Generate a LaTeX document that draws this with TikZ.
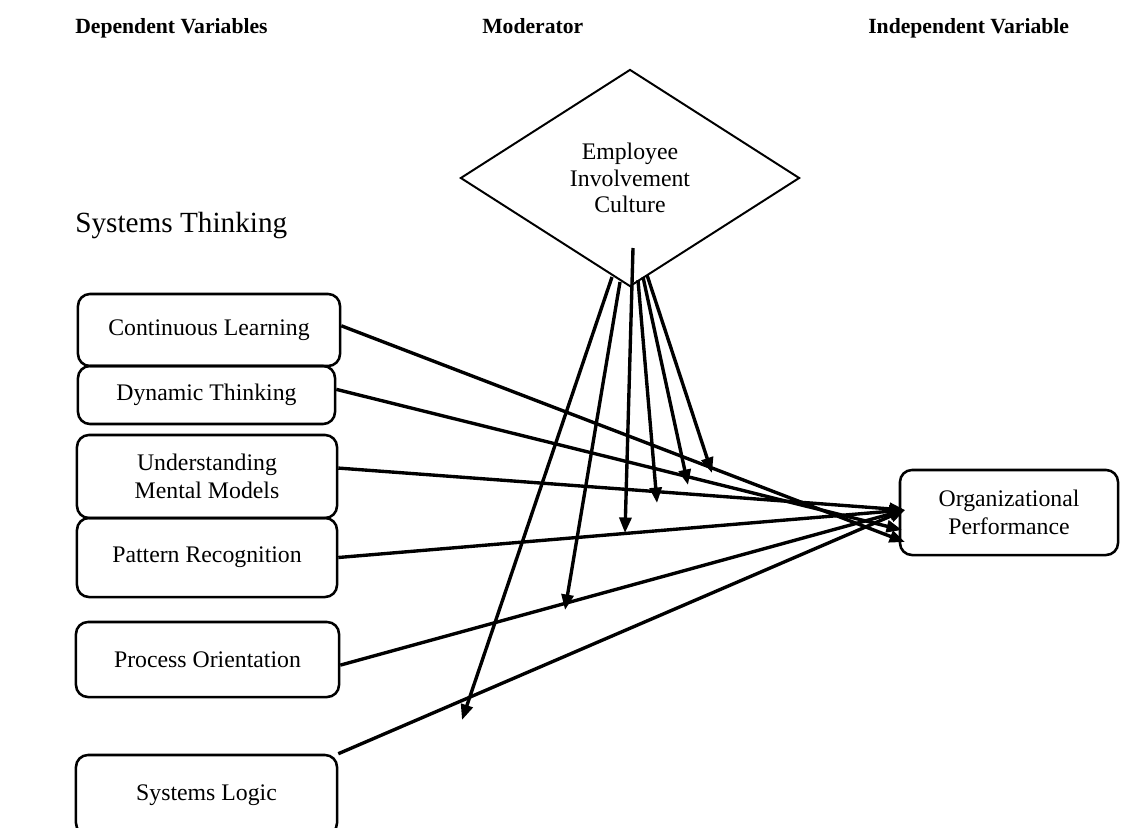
\documentclass[tikz,border=0pt]{standalone}
\usepackage{fontspec}
\setmainfont{Liberation Serif}
\usetikzlibrary{positioning}
\usetikzlibrary{shapes.geometric}
\usetikzlibrary{arrows.meta}

\begin{document}
\begin{tikzpicture}[x=0.025cm,y=-0.025cm,
  varbox/.style={draw,rounded corners=0.3cm,line width=1.8pt,align=center,inner sep=0pt,font=\fontsize{16.9}{19.5}\selectfont},
  head/.style={font=\fontsize{15.4}{18}\selectfont\bfseries,inner sep=0pt,anchor=base west},
  link/.style={line width=2.4pt,-{Triangle[length=11pt,width=8.5pt]}}]
\useasboundingbox (0,0) rectangle (1122,827);
\clip (0,0) rectangle (1122,827);

% headings
\node[head] (hdv) at (75,34) {Dependent Variables};
\node[head] (hmod) at (482,34) {Moderator};
\node[head] (hiv) at (868,34) {Independent Variable};
\node[font=\fontsize{20.8}{24}\selectfont,inner sep=0pt,anchor=base west] (st) at (75,232) {Systems Thinking};

% moderator
\node[diamond,draw,line width=1.4pt,minimum width=8.475cm,minimum height=5.425cm,inner sep=0pt,align=center,font=\fontsize{16.9}{18.9}\selectfont] (eic) at (630,178) {Employee\\Involvement\\Culture};

% dependent variables
\node[varbox,minimum width=6.55cm,minimum height=1.8cm] (cl) at (209,330) {Continuous Learning};
\node[varbox,minimum width=6.425cm,minimum height=1.45cm] (dt) at (206.5,395) {Dynamic Thinking};
\node[varbox,minimum width=6.5cm,minimum height=2.075cm] (umm) at (207,476.5) {Understanding\\Mental Models};
\node[varbox,minimum width=6.5cm,minimum height=1.975cm] (pr) at (207,557.5) {Pattern Recognition};
\node[varbox,minimum width=6.575cm,minimum height=1.875cm] (po) at (207.5,659.5) {Process Orientation};
\node[varbox,minimum width=6.525cm,minimum height=2cm] (sl) at (206.5,795) {Systems Logic};

% independent variable
\node[varbox,minimum width=5.45cm,minimum height=2.125cm] (op) at (1009,512.5) {Organizational\\Performance};

\coordinate (in1) at (905,510);
\coordinate (in2) at (902,530);
\coordinate (in3) at (905,542);

\draw[link] ([yshift=3pt]cl.east) -- (in3);
\draw[link] ([yshift=4pt]dt.east) -- (in2);
\draw[link] ([yshift=6pt]umm.east) -- (in1);
\draw[link] (pr.east) -- (in1);
\draw[link] ([yshift=-4pt]po.east) -- (in1);
\draw[link] (sl.north east) -- (in1);

% moderating effects
\coordinate (s1) at (647,275);
\coordinate (s2) at (643,277);
\coordinate (s3) at (638,280);
\coordinate (s4) at (633,248);
\coordinate (s5) at (620,282);
\coordinate (s6) at (612,277);
\coordinate (m1) at (712,473);
\coordinate (m2) at (688,485);
\coordinate (m3) at (657,503);
\coordinate (m4) at (625,533);
\coordinate (m5) at (565,610);
\coordinate (m6) at (462,720);

\draw[link] (s1) -- (m1);
\draw[link] (s2) -- (m2);
\draw[link] (s3) -- (m3);
\draw[link] (s4) -- (m4);
\draw[link] (s5) -- (m5);
\draw[link] (s6) -- (m6);

\end{tikzpicture}
\end{document}
